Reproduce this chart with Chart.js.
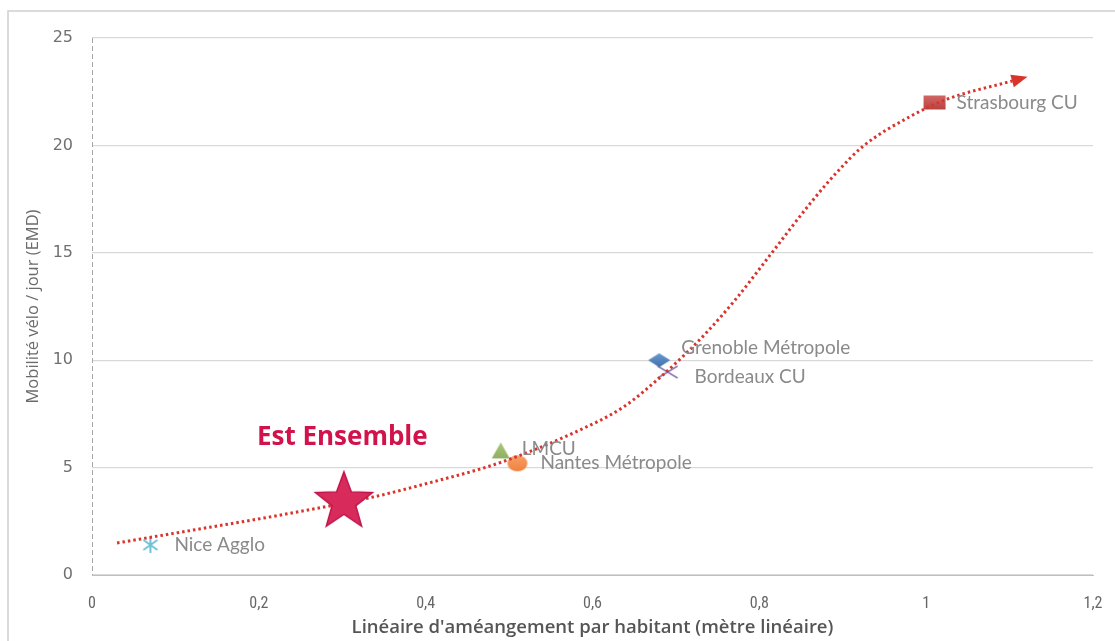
<!DOCTYPE html>
<html>
<head>
<meta charset="utf-8">
<script src="https://cdn.jsdelivr.net/npm/chart.js@4.4.1/dist/chart.umd.min.js"></script>
<style>
  html, body { margin: 0; padding: 0; background: #fff; overflow: hidden; }
  #wrap { width: 1115px; height: 641px; position: relative; }
</style>
</head>
<body>
<div id="wrap"><canvas id="chart"></canvas></div>
<script>
// Points (x = linéaire par habitant, y = mobilité vélo / jour)
const cityNames = ['Nice Agglo', 'LMCU', 'Nantes Métropole', 'Grenoble Métropole', 'Bordeaux CU', 'Strasbourg CU'];
const cityX = [0.07, 0.49, 0.51, 0.68, 0.69, 1.01];
const cityY = [1.4, 5.8, 5.2, 10.0, 9.45, 22.0];

const starName = 'Est Ensemble';
const starX = [0.302];
const starY = [3.5];

// Courbe de tendance
const trendX = [0.03, 0.13, 0.23, 0.337, 0.417, 0.465, 0.505, 0.577, 0.637, 0.681, 0.709, 0.737, 0.773, 0.813, 0.861, 0.893, 0.924, 0.981, 1.025, 1.103];
const trendY = [1.49, 2.15, 2.82, 3.63, 4.42, 4.93, 5.45, 6.61, 7.82, 9.2, 10.2, 11.3, 12.9, 14.9, 17.3, 18.75, 19.95, 21.35, 22.15, 23.0];

const xTickValues = [0, 0.2, 0.4, 0.6, 0.8, 1, 1.2];
const xTickLabels = ['0', '0,2', '0,4', '0,6', '0,8', '1', '1,2'];
const yTickValues = [0, 5, 10, 15, 20, 25];
const yTickLabels = ['0', '5', '10', '15', '20', '25'];

// marker drawing helpers
function marker(w, h, draw) {
    const c = document.createElement('canvas');
    c.width = w; c.height = h;
    draw(c.getContext('2d'), w, h);
    return c;
}
function grad(ctx, h, c1, c2) {
    const g = ctx.createLinearGradient(0, 0, 0, h);
    g.addColorStop(0, c1); g.addColorStop(1, c2);
    return g;
}
const markers = [
    marker(20, 20, (ctx, w, h) => { // asterisk
        ctx.strokeStyle = '#6fc1d6'; ctx.lineWidth = 2;
        ctx.beginPath();
        ctx.moveTo(10, 2); ctx.lineTo(10, 18);
        ctx.moveTo(3, 5); ctx.lineTo(17, 15);
        ctx.moveTo(17, 5); ctx.lineTo(3, 15);
        ctx.stroke();
    }),
    marker(20, 18, (ctx, w, h) => { // triangle
        ctx.fillStyle = grad(ctx, h, '#a9c878', '#8fae62');
        ctx.beginPath(); ctx.moveTo(10, 1); ctx.lineTo(19, 17); ctx.lineTo(1, 17); ctx.closePath(); ctx.fill();
    }),
    marker(22, 18, (ctx, w, h) => { // circle
        ctx.fillStyle = grad(ctx, h, '#f6a26a', '#f07f3c');
        ctx.beginPath(); ctx.ellipse(11, 9, 10, 8, 0, 0, Math.PI * 2); ctx.fill();
    }),
    marker(24, 16, (ctx, w, h) => { // diamond
        ctx.fillStyle = grad(ctx, h, '#6b9bd1', '#3f6fa8');
        ctx.beginPath(); ctx.moveTo(12, 1); ctx.lineTo(23, 8); ctx.lineTo(12, 15); ctx.lineTo(1, 8); ctx.closePath(); ctx.fill();
    }),
    marker(24, 16, (ctx, w, h) => { // x
        ctx.strokeStyle = '#8a78b0'; ctx.lineWidth = 1.5;
        ctx.beginPath(); ctx.moveTo(2, 2); ctx.lineTo(22, 14); ctx.moveTo(22, 2); ctx.lineTo(2, 14); ctx.stroke();
    }),
    marker(24, 16, (ctx, w, h) => { // rect
        ctx.fillStyle = grad(ctx, h, '#d26a68', '#b8403d');
        ctx.fillRect(1, 1, 22, 14);
    })
];
const starMarker = marker(66, 64, (ctx, w, h) => {
    const cx = 33, cy = 34, R = 30, r = 12.5;
    ctx.beginPath();
    for (let i = 0; i < 10; i++) {
        const a = -Math.PI / 2 + i * Math.PI / 5;
        const rr = i % 2 === 0 ? R : r;
        ctx.lineTo(cx + rr * Math.cos(a), cy + rr * Math.sin(a));
    }
    ctx.closePath();
    ctx.fillStyle = '#d82b5c';
    ctx.fill();
    ctx.strokeStyle = '#c0124a'; ctx.lineWidth = 1.5;
    ctx.stroke();
});

// label offsets in px from each marker
const labelOffsets = [[24, 0], [21, -2], [23, 0], [22, -12], [27, 5], [22, 0]];

const datasets = [{
    label: starName,
    data: starX.map((x, i) => ({ x, y: starY[i] })),
    pointStyle: starMarker,
    pointRadius: 30,
    order: 0
}, {
    label: 'Tendance',
    data: trendX.map((x, i) => ({ x, y: trendY[i] })),
    showLine: true,
    borderColor: '#d9342b',
    borderWidth: 3,
    borderDash: [2.5, 3],
    cubicInterpolationMode: 'monotone',
    pointRadius: 0,
    order: 1
}];
cityNames.forEach((name, i) => {
    datasets.push({
        label: name,
        data: [{ x: cityX[i], y: cityY[i] }],
        pointStyle: markers[i],
        pointRadius: 10,
        order: 2
    });
});

const decor = {
    id: 'decor',
    beforeDraw(chart) {
        const ctx = chart.ctx;
        ctx.save();
        ctx.strokeStyle = '#d0d0d0';
        ctx.lineWidth = 1.5;
        ctx.strokeRect(8, 11, 1200, 700);
        ctx.restore();
    },
    beforeDatasetsDraw(chart) {
        // dashed vertical axis line
        const ctx = chart.ctx, a = chart.chartArea;
        ctx.save();
        ctx.strokeStyle = '#a6a6a6';
        ctx.lineWidth = 1;
        ctx.setLineDash([5, 3]);
        ctx.beginPath();
        ctx.moveTo(a.left + 0.5, a.top);
        ctx.lineTo(a.left + 0.5, a.bottom);
        ctx.stroke();
        ctx.restore();
    },
    afterDatasetsDraw(chart) {
        const ctx = chart.ctx;
        ctx.save();
        // arrow head at end of trend
        const pts = chart.getDatasetMeta(1).data;
        const a = pts[pts.length - 2], b = pts[pts.length - 1];
        const ang = Math.atan2(b.y - a.y, b.x - a.x);
        ctx.translate(b.x, b.y);
        ctx.rotate(ang);
        ctx.fillStyle = '#d9342b';
        ctx.beginPath();
        ctx.moveTo(16, 0); ctx.lineTo(0, -6.5); ctx.lineTo(0, 6.5); ctx.closePath();
        ctx.fill();
        ctx.setTransform(1, 0, 0, 1, 0, 0);

        // city labels
        ctx.font = '19px Lato, sans-serif';
        ctx.fillStyle = '#8a8a8a';
        ctx.textBaseline = 'middle';
        ctx.textAlign = 'left';
        cityNames.forEach((name, i) => {
            const p = chart.getDatasetMeta(i + 2).data[0];
            ctx.fillText(name, p.x + labelOffsets[i][0], p.y + labelOffsets[i][1]);
        });
        // Est Ensemble label
        const s = chart.getDatasetMeta(0).data[0];
        ctx.font = 'bold 26px "Open Sans", sans-serif';
        ctx.fillStyle = '#d1124b';
        ctx.fillText(starName, s.x - 87, s.y - 62);
        ctx.restore();
    }
};

new Chart(document.getElementById('chart').getContext('2d'), {
    type: 'scatter',
    data: { datasets: datasets },
    options: {
        responsive: true,
        maintainAspectRatio: false,
        animation: false,
        layout: { autoPadding: false, padding: { top: 38, right: 22, left: 18, bottom: 0 } },
        plugins: {
            legend: { display: false },
            tooltip: { enabled: false }
        },
        scales: {
            x: {
                type: 'linear',
                min: 0, max: 1.2,
                afterBuildTicks: (scale) => { scale.ticks = xTickValues.map(v => ({ value: v })); },
                afterFit: (scale) => { scale.height = 66; },
                grid: { display: false },
                border: { display: true, color: '#bfbfbf', width: 1 },
                ticks: {
                    padding: 11,
                    color: '#666',
                    font: { family: '"Liberation Sans Narrow", "Roboto Condensed", sans-serif', size: 16 },
                    callback: (v) => xTickLabels[xTickValues.indexOf(Math.round(v * 10) / 10)]
                },
                title: {
                    display: true,
                    text: "Linéaire d'améangement par habitant (mètre linéaire)",
                    color: '#555',
                    font: { family: '"Open Sans", sans-serif', size: 18.5, weight: '600' },
                    padding: { top: 0, bottom: 2 }
                }
            },
            y: {
                type: 'linear',
                min: 0, max: 25,
                afterBuildTicks: (scale) => { scale.ticks = yTickValues.map(v => ({ value: v })); },
                afterFit: (scale) => { scale.width = 74; },
                grid: { color: '#d9d9d9', lineWidth: 1.3, drawTicks: false },
                border: { display: false },
                ticks: {
                    padding: 19,
                    color: '#707070',
                    font: { family: '"DejaVu Sans", sans-serif', size: 16 },
                    callback: (v) => yTickLabels[yTickValues.indexOf(v)]
                },
                title: {
                    display: true,
                    text: 'Mobilité vélo / jour (EMD)',
                    color: '#6b6b6b',
                    font: { family: '"Open Sans", sans-serif', size: 16.5 },
                    padding: { top: 5, bottom: 0 }
                }
            }
        }
    },
    plugins: [decor]
});
</script>
</body>
</html>
